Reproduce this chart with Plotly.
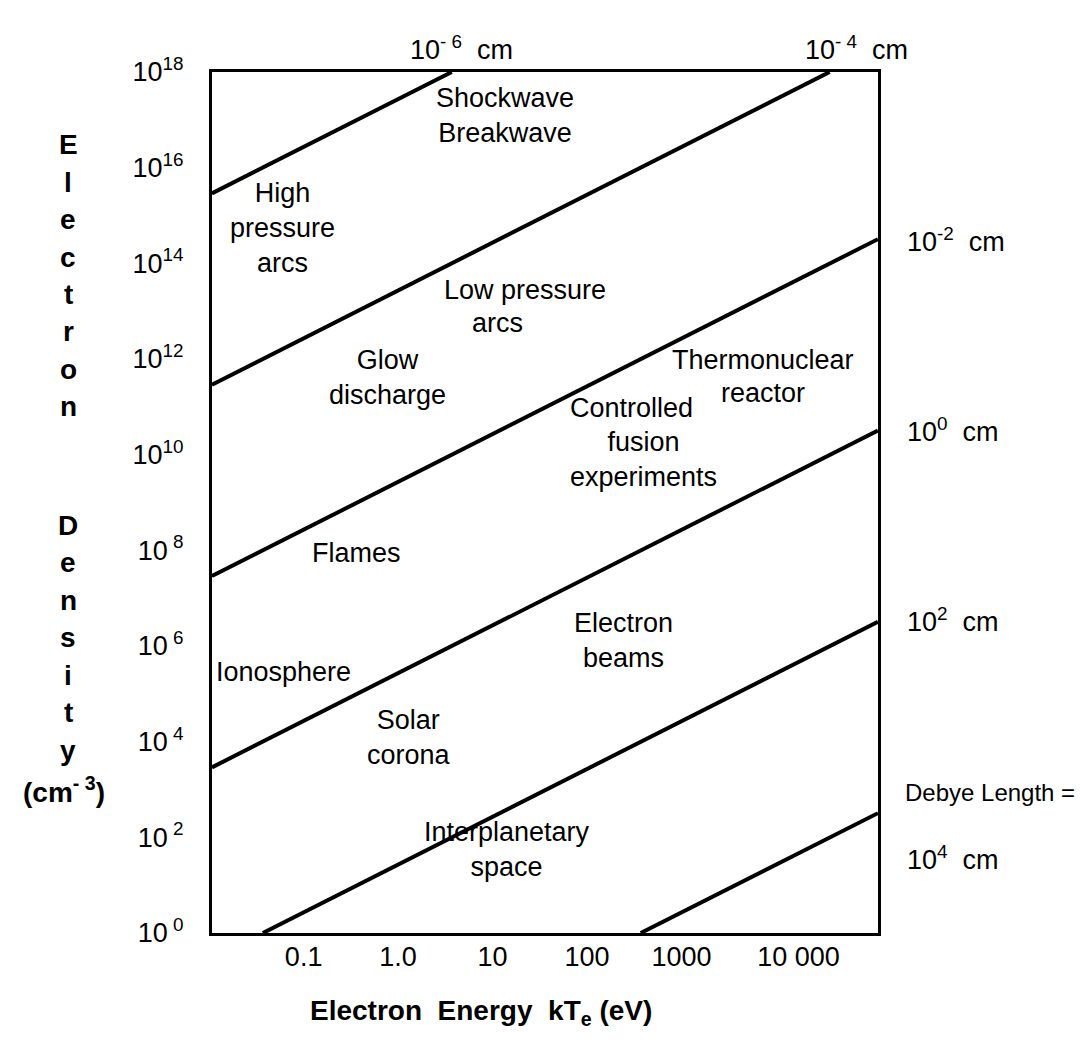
import plotly.graph_objects as go

# ---------------- data ----------------
energy_ticks = [0.1, 1, 10, 100, 1000, 10000]
energy_tick_labels = ["0.1", "1.0", "10", "100", "1000",
                      "\u00a0\u00a0\u00a0\u00a0\u00a0\u00a010 000"]
density_ticks = [1e0, 1e2, 1e4, 1e6, 1e8, 1e10, 1e12, 1e14, 1e16, 1e18]
density_tick_labels = ["10<sup> 0</sup>", "10<sup> 2</sup>", "10<sup> 4</sup>",
                       "10<sup> 6</sup>", "10<sup> 8</sup>", "10<sup>10</sup>",
                       "10<sup>12</sup>", "10<sup>14</sup>", "10<sup>16</sup>",
                       "10<sup>18</sup>"]

# Debye-length lines (visible segment end points)
debye_lengths = ["10<sup>- 6</sup>  cm", "10<sup>- 4</sup>  cm", "10<sup>-2</sup>  cm",
                 "10<sup>0</sup>  cm", "10<sup>2</sup>  cm", "10<sup>4</sup>  cm"]
line_start_energy = [0.0107, 0.0107, 0.0107, 0.0107, 0.037, 370]
line_start_density = [2.9e15, 2.9e11, 2.9e7, 2.9e3, 1.0, 1.0]
line_end_energy = [3.7, 3.7e4, 1.2e5, 1.2e5, 1.2e5, 1.2e5]
line_end_density = [1e18, 1e18, 3.2e14, 3.2e10, 3.2e6, 3.2e2]

region_names = ["Shockwave<br>Breakwave", "High<br>pressure<br>arcs", "Low pressure",
                "arcs", "Glow<br>discharge", "Thermonuclear", "reactor",
                "Controlled", "fusion<br>experiments", "Flames", "Electron<br>beams",
                "Ionosphere", "Solar<br>corona", "Interplanetary<br>space"]

# ---------------- layout geometry (pixels) ----------------
W, H = 1081, 1044
L, R, T, B = 212, 878, 72, 933


def px(x, y):
    return (x - L) / (R - L), (B - y) / (B - T)


FONT = "Liberation Sans, Arial, Helvetica, sans-serif"
FS = 27

fig = go.Figure()
for i in range(len(debye_lengths)):
    fig.add_trace(go.Scatter(
        x=[line_start_energy[i], line_end_energy[i]],
        y=[line_start_density[i], line_end_density[i]],
        mode="lines", line=dict(color="black", width=4),
        showlegend=False, hoverinfo="skip"))

annotations = []


def add_text(text, x, y, size=FS, bold=False, xanchor="center", yanchor="middle"):
    xp, yp = px(x, y)
    if bold:
        text = "<b>" + text + "</b>"
    annotations.append(dict(text=text, x=xp, y=yp, xref="paper", yref="paper",
                            showarrow=False, xanchor=xanchor, yanchor=yanchor,
                            font=dict(family=FONT, size=size, color="black")))


# region labels
region_pos = [(505, 115), (282, 228), (525, 290), (497, 323), (387, 378),
              (763, 360), (763, 393), (631, 408), (643, 460), (356, 553),
              (623, 640), (283, 672), (409, 737), (507, 849)]
for name, (x, y) in zip(region_names, region_pos):
    add_text(name, x, y)

# Debye length labels
debye_pos = [(461, 48), (856, 48), (905, 240), (905, 430), (905, 620), (905, 858)]
for i, (lab, (x, y)) in enumerate(zip(debye_lengths, debye_pos)):
    add_text(lab, x, y, xanchor="center" if i < 2 else "left")
add_text("Debye Length =", 903, 792, size=24, xanchor="left")

# vertical stacked y title
word1 = "Electron"
word2 = "Density"
for k, ch in enumerate(word1):
    add_text(ch, 68, 145 + 37.4 * k, size=28, bold=True)
for k, ch in enumerate(word2):
    add_text(ch, 68, 525 + 37.5 * k, size=28, bold=True)
add_text("(cm<sup>- 3</sup>)", 64, 790, size=28, bold=True)

# x title
add_text("Electron  Energy  kT<sub>e</sub> (eV)", 481, 1013, size=28, bold=True)

axis_common = dict(type="log", showgrid=False, zeroline=False, showline=True,
                   linecolor="black", linewidth=3, mirror=True, ticks="",
                   automargin=False, tickangle=0,
                   tickfont=dict(family=FONT, size=FS, color="black"))

fig.update_layout(
    width=W, height=H,
    margin=dict(l=L, r=W - R, t=T, b=H - B, pad=0),
    paper_bgcolor="white", plot_bgcolor="white",
    xaxis=dict(range=[-1.97, 5.08], tickvals=energy_ticks, ticktext=energy_tick_labels,
               ticklabelstandoff=-2, **axis_common),
    yaxis=dict(range=[0, 18], tickvals=density_ticks, ticktext=density_tick_labels,
               ticklabelstandoff=20, **axis_common),
    annotations=annotations,
    showlegend=False,
)

fig.write_html("out.html", config={"displayModeBar": False},
               post_script="document.body.style.margin='0';")
